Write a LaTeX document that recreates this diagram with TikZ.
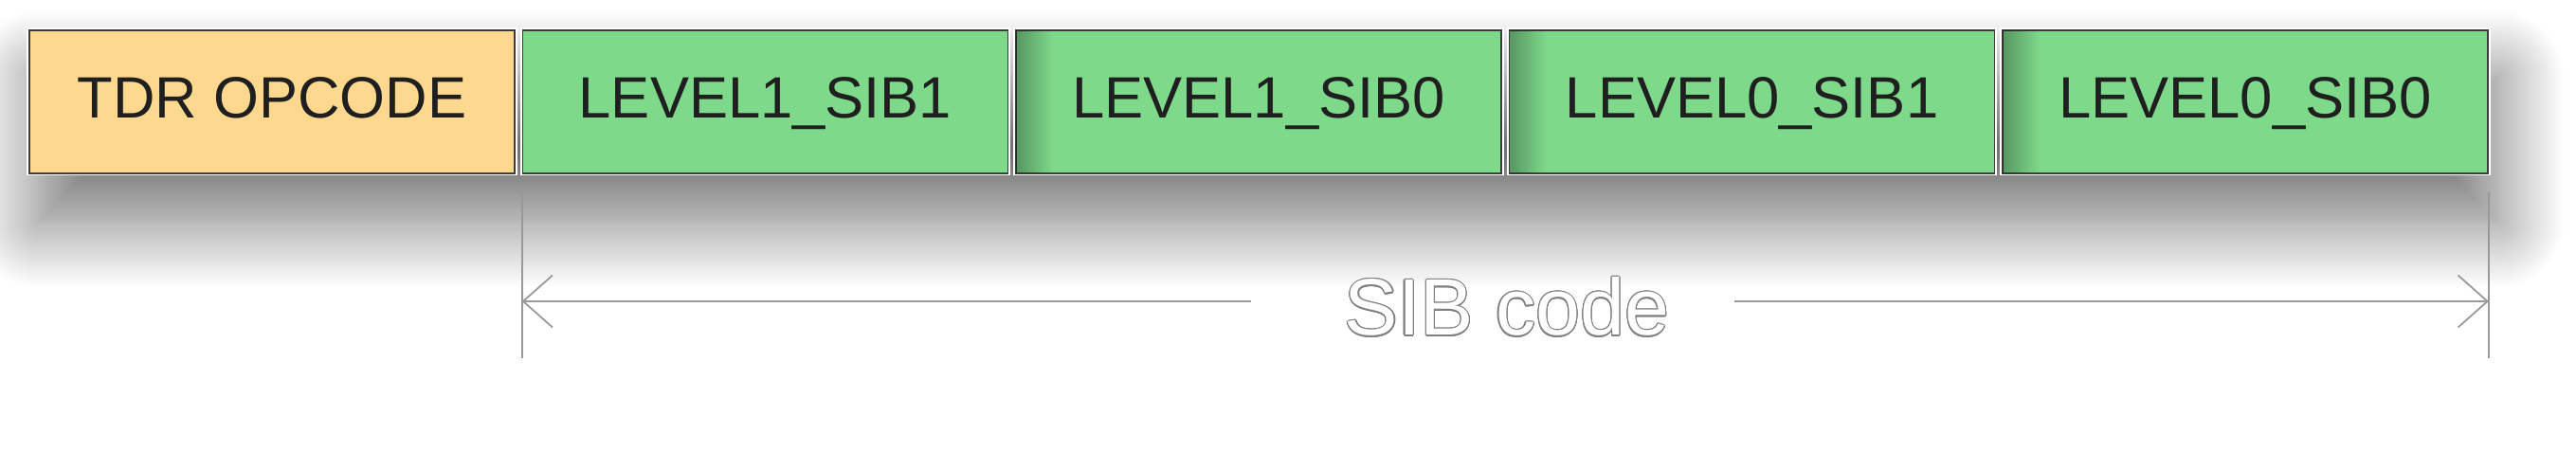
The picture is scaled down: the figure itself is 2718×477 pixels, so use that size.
\documentclass[tikz,border=0pt]{standalone}
\usepackage{fontspec}
\setmainfont{Liberation Sans}
\usepackage{contour}
\usetikzlibrary{arrows.meta,positioning,shadows.blur,fadings,backgrounds}
\definecolor{opfill}{HTML}{FFD88F}
\definecolor{sibfill}{HTML}{7ED98B}
\definecolor{edgedark}{HTML}{3C3C3C}
\contourlength{0.35pt}
\tikzfading[name=fadeedge, left color=transparent!0, right color=transparent!100]

\begin{document}
\begin{tikzpicture}[x=0.01cm, y=-0.01cm,
  field/.style={rectangle, draw=edgedark, line width=0.4pt,
    preaction={draw=white, line width=1.4pt},
    minimum width=5.12cm, minimum height=1.51cm, inner sep=0pt,
    text height=12.6pt, text depth=3.2pt,
    font=\fontsize{17.5}{20}\selectfont, text=black!88},
  opfield/.style={field, fill=opfill},
  sibfield/.style={field, fill=sibfill},
  dim/.style={black!40, line width=0.5pt},
  dimtip/.style={dim, -{Straight Barb[length=0.31cm, width=0.55cm]}},
]
% page: 2718 x 477 px, 1 px = 0.01 cm
\useasboundingbox (0,0) rectangle (2718,477);

% Fields of the instruction
\node[opfield] (b1) at (287,107.5) {TDR OPCODE};
\foreach \lbl [count=\i from 2] in {LEVEL1\_SIB1, LEVEL1\_SIB0, LEVEL0\_SIB1, LEVEL0\_SIB0} {
  \node[sibfield] (b\i) at ({287+520.5*(\i-1)},107.5) {\lbl};
}
% shade cast on the left edge of the next field
\foreach \b in {b3,b4,b5} {
  \fill[black, opacity=0.3, path fading=fadeedge] ([xshift=0.3pt,yshift=-0.3pt]\b.north west) rectangle ([xshift=0.4cm,yshift=0.3pt]\b.south west);
}
% Drop shadow of the row
\begin{scope}[on background layer]
  \path[blur shadow={shadow xshift=0.1cm, shadow yshift=-0.5cm, shadow blur radius=0.7cm, shadow blur steps=30, shadow opacity=55}]
    (b1.north west) rectangle (b5.south east);
\end{scope}

% Span of the SIB code
\coordinate (lt) at ([yshift=-0.19cm]b2.south west);
\coordinate (lb) at ([yshift=-1.94cm]b2.south west);
\coordinate (rt) at ([yshift=-0.19cm]b5.south east);
\coordinate (rb) at ([yshift=-1.94cm]b5.south east);
\draw[dim] (lt) -- (lb);
\draw[dim] (rt) -- (rb);
\node[font=\fontsize{24}{28}\selectfont, text=white, anchor=base, inner sep=0pt] (span) at (1590,354) {\contour{black!50}{SIB code}};
\coordinate (la) at (1320,318);
\coordinate (ra) at (1830,318);
\draw[dimtip] (la) -- (la -| lt);
\draw[dimtip] (ra) -- (ra -| rt);
\end{tikzpicture}
\end{document}
